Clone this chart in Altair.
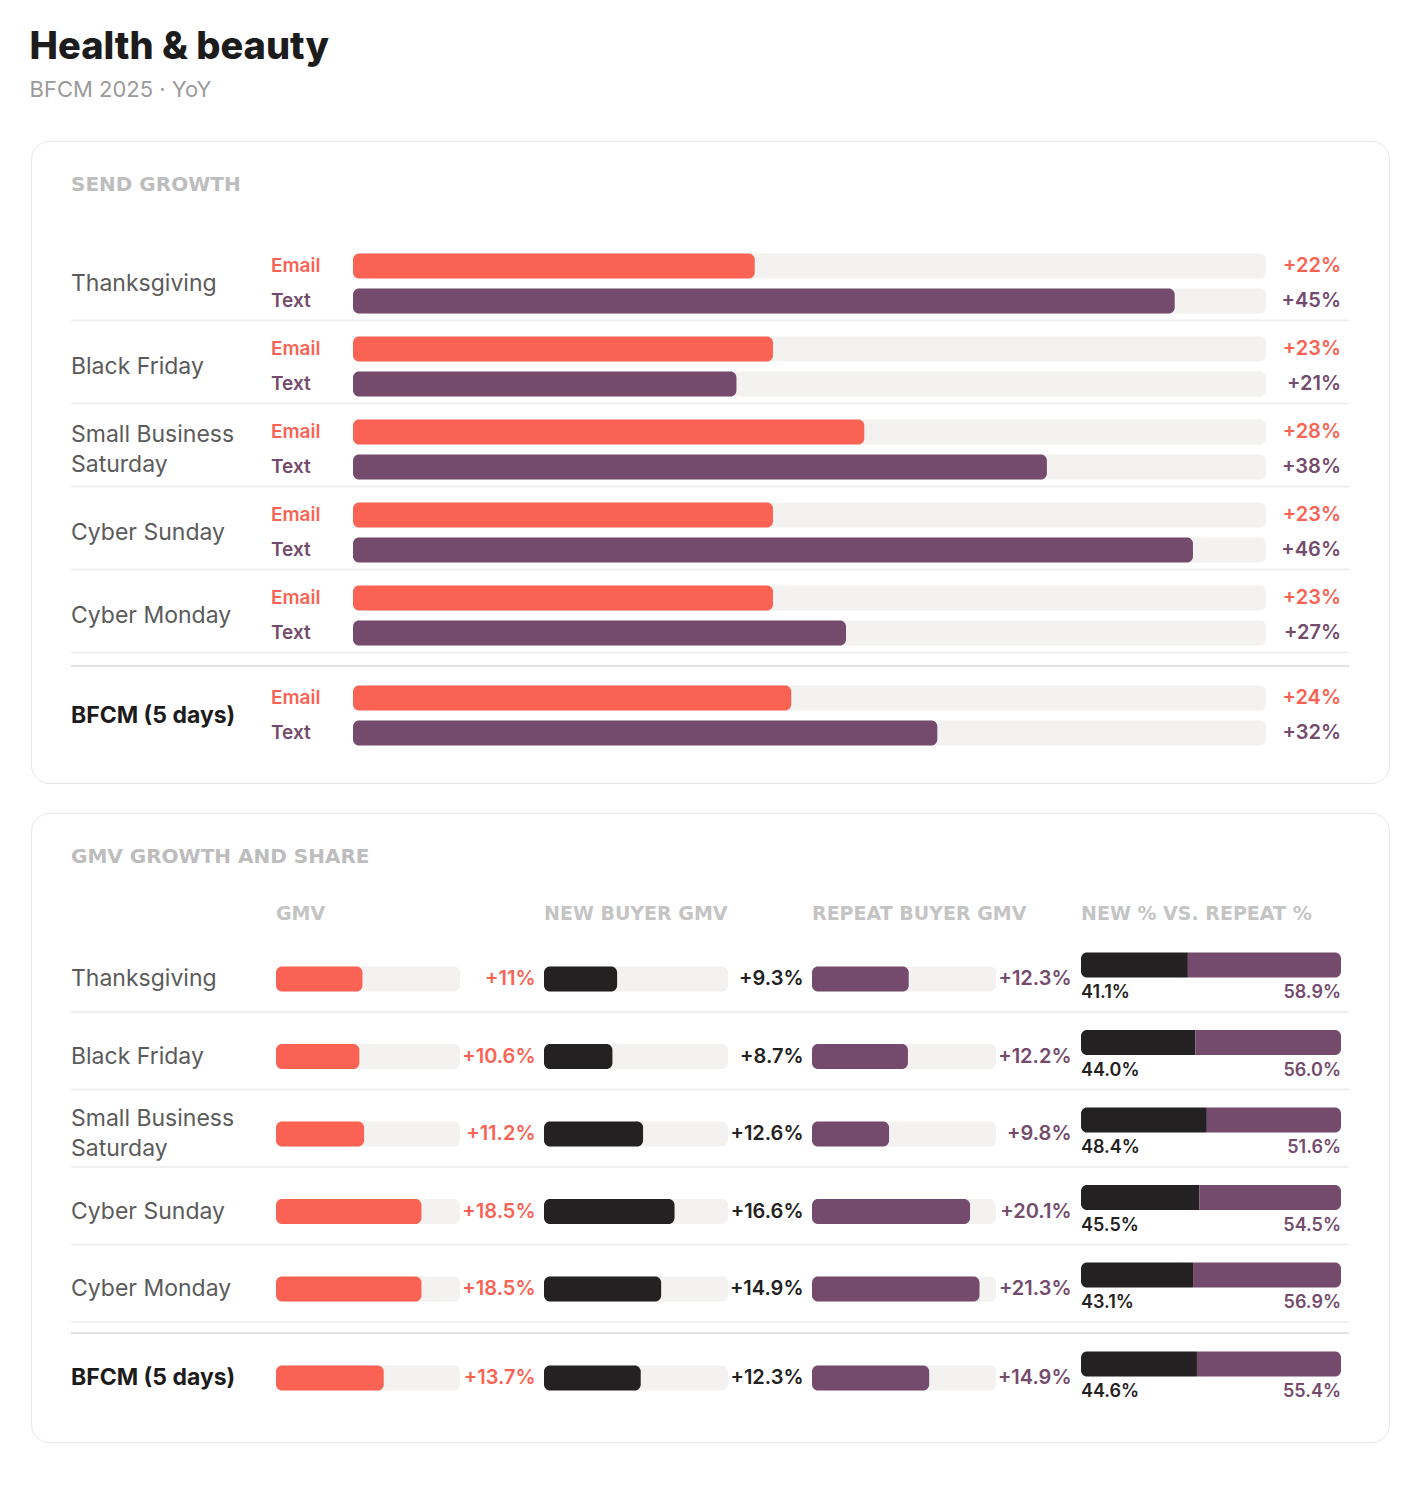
import altair as alt
import pandas as pd

# ---------------- data ----------------
events = ["Thanksgiving", "Black Friday", "Small Business\nSaturday",
          "Cyber Sunday", "Cyber Monday", "BFCM (5 days)"]
total_event = "BFCM (5 days)"

# Send growth, YoY %
email_growth = [22, 23, 28, 23, 23, 24]
text_growth = [45, 21, 38, 46, 27, 32]

# GMV growth, YoY %
gmv_growth = [11.0, 10.6, 11.2, 18.5, 18.5, 13.7]
new_buyer_growth = [9.3, 8.7, 12.6, 16.6, 14.9, 12.3]
repeat_buyer_growth = [12.3, 12.2, 9.8, 20.1, 21.3, 14.9]

# Share of GMV, %
new_share = [41.1, 44.0, 48.4, 45.5, 43.1, 44.6]
repeat_share = [58.9, 56.0, 51.6, 54.5, 56.9, 55.4]

gmv_headers = ["GMV", "NEW BUYER GMV", "REPEAT BUYER GMV", "NEW % VS. REPEAT %"]

# ---------------- style ----------------
CORAL = "#fa6354"
PURPLE = "#744b6d"
INK = "#232122"
TRACK = "#f3f2f1"
RULE = "#efefef"
RULE_STRONG = "#e3e3e3"
MUTED = "#bdbdbd"
NAME = "#5b5b5b"
FONT = "Inter"
CAPS_FONT = "DejaVu Sans"

PANEL_W = 1358
SEND_MAX = 50
GROWTH_MAX = 23.4
BAR_H = 25
RADIUS = 6
LINE_H = 30


def caption(text, x, y, size=20, color=MUTED):
    return alt.Chart(pd.DataFrame({"t": [text]})).mark_text(
        font=CAPS_FONT, fontSize=size, fontWeight="bold", color=color,
        align="left", baseline="middle"
    ).encode(x=alt.value(x), y=alt.value(y), text="t:N")


def name_layers(names, y_enc, shift, total):
    """Row names; multi-line names are centred on the row as a block."""
    df = pd.DataFrame({"event": list(names)})
    n_lines = df["event"].str.count("\n") + 1
    layers = []
    for n in sorted(n_lines.unique()):
        layers.append(alt.Chart(df[n_lines == n]).mark_text(
            font=FONT, fontSize=23, fontWeight=700 if total else 400,
            color="#1c1c1c" if total else NAME, align="left", baseline="middle",
            lineBreak="\n", lineHeight=LINE_H, dy=shift - (n - 1) * LINE_H / 2
        ).encode(x=alt.value(40), y=y_enc, text="event:N"))
    return layers


# ---------------- panel 1: send growth ----------------
send = pd.DataFrame({
    "event": events * 2,
    "channel": ["Email"] * len(events) + ["Text"] * len(events),
    "growth": email_growth + text_growth,
})
send["label"] = send["growth"].map(lambda v: f"{v:+d}%")

send_y = alt.Y("event:N", axis=None, sort=events,
               scale=alt.Scale(domain=events, range=[101, 599],
                               paddingInner=0, paddingOuter=0))
send_x = alt.Scale(domain=[0, SEND_MAX], range=[322, 1235])


def send_rows(df, shift, total):
    layers = []
    for channel, color, off in [("Email", CORAL, -17.5), ("Text", PURPLE, 17.5)]:
        sub = alt.Chart(df).transform_filter(
            alt.datum.channel == channel
        ).transform_calculate(lo="0", hi=str(SEND_MAX))
        layers.append(sub.mark_bar(color=TRACK, height=BAR_H, cornerRadius=RADIUS,
                                   yOffset=shift + off).encode(
            x=alt.X("lo:Q", scale=send_x, axis=None), x2="hi:Q", y=send_y))
        layers.append(sub.mark_bar(color=color, height=BAR_H, cornerRadius=RADIUS,
                                   yOffset=shift + off).encode(
            x=alt.X("lo:Q", scale=send_x, axis=None), x2="growth:Q", y=send_y))
        layers.append(sub.mark_text(font=FONT, fontSize=19, fontWeight=600, color=color,
                                    align="left", baseline="middle", dy=shift + off).encode(
            x=alt.value(240), y=send_y, text="channel:N"))
        layers.append(sub.mark_text(font=FONT, fontSize=20, fontWeight=600, color=color,
                                    align="right", baseline="middle", dy=shift + off).encode(
            x=alt.value(1310), y=send_y, text="label:N"))
    names = df["event"].unique()
    layers += name_layers(names, send_y, shift, total)
    rows = pd.DataFrame({"event": names})
    if total:
        layers.append(alt.Chart(rows).mark_rule(color=RULE_STRONG, strokeWidth=2,
                                                 yOffset=shift - 49.5).encode(
            x=alt.value(40), x2=alt.value(1318), y=send_y))
    else:
        layers.append(alt.Chart(rows).mark_rule(color=RULE, strokeWidth=2,
                                                 yOffset=37).encode(
            x=alt.value(40), x2=alt.value(1318), y=send_y))
    return layers


send_detail = send[send["event"] != total_event]
send_total = send[send["event"] == total_event]

panel1 = alt.layer(
    caption("SEND GROWTH", 40, 44),
    *send_rows(send_detail, 0, False),
    *send_rows(send_total, 17, True),
).properties(
    width=PANEL_W, height=642,
    view=alt.ViewBackground(stroke="#e6e6e6", strokeWidth=1, cornerRadius=18, fill="white"),
)

# ---------------- panel 2: GMV growth and share ----------------
gmv = pd.DataFrame({
    "event": events,
    "gmv": gmv_growth,
    "new": new_buyer_growth,
    "repeat": repeat_buyer_growth,
    "new_share": new_share,
    "repeat_share": repeat_share,
})
for col in ["gmv", "new", "repeat"]:
    gmv[col + "_label"] = gmv[col].map(lambda v: f"{v:+g}%")
gmv["new_share_label"] = gmv["new_share"].map(lambda v: f"{v:.1f}%")
gmv["repeat_share_label"] = gmv["repeat_share"].map(lambda v: f"{v:.1f}%")

gmv_y = alt.Y("event:N", axis=None, sort=events,
              scale=alt.Scale(domain=events, range=[127.25, 592.25],
                              paddingInner=0, paddingOuter=0))
growth_x = alt.Scale(domain=[0, GROWTH_MAX], range=[245, 429])
share_x = alt.Scale(domain=[0, 100], range=[1050, 1310])

growth_cols = [("gmv", CORAL, 0), ("new", INK, 268), ("repeat", PURPLE, 536)]


def gmv_rows(df, shift, total):
    base = alt.Chart(df).transform_calculate(lo="0", hi=str(GROWTH_MAX), full="100")
    layers = []
    for field, color, off in growth_cols:
        layers.append(base.mark_bar(color=TRACK, height=BAR_H, cornerRadius=RADIUS,
                                    xOffset=off, x2Offset=off, yOffset=shift).encode(
            x=alt.X("lo:Q", scale=growth_x, axis=None), x2="hi:Q", y=gmv_y))
        layers.append(base.mark_bar(color=color, height=BAR_H, cornerRadius=RADIUS,
                                    xOffset=off, x2Offset=off, yOffset=shift).encode(
            x=alt.X("lo:Q", scale=growth_x, axis=None), x2=f"{field}:Q", y=gmv_y))
        layers.append(base.mark_text(font=FONT, fontSize=20, fontWeight=600, color=color,
                                     align="right", baseline="middle", dy=shift).encode(
            x=alt.value(245 + off + 259.5), y=gmv_y, text=f"{field}_label:N"))
    # new vs repeat share, one split bar
    layers.append(base.mark_bar(color=INK, height=BAR_H, cornerRadiusTopLeft=RADIUS,
                                cornerRadiusBottomLeft=RADIUS, yOffset=shift - 14).encode(
        x=alt.X("lo:Q", scale=share_x, axis=None), x2="new_share:Q", y=gmv_y))
    layers.append(base.mark_bar(color=PURPLE, height=BAR_H, cornerRadiusTopRight=RADIUS,
                                cornerRadiusBottomRight=RADIUS, yOffset=shift - 14).encode(
        x=alt.X("new_share:Q", scale=share_x, axis=None), x2="full:Q", y=gmv_y))
    layers.append(base.mark_text(font=FONT, fontSize=18, fontWeight=600, color=INK,
                                 align="left", baseline="middle", dy=shift + 14).encode(
        x=alt.value(1050), y=gmv_y, text="new_share_label:N"))
    layers.append(base.mark_text(font=FONT, fontSize=18, fontWeight=600, color=PURPLE,
                                 align="right", baseline="middle", dy=shift + 14).encode(
        x=alt.value(1310), y=gmv_y, text="repeat_share_label:N"))
    layers += name_layers(df["event"], gmv_y, shift, total)
    if total:
        layers.append(base.mark_rule(color=RULE_STRONG, strokeWidth=2,
                                     yOffset=shift - 45).encode(
            x=alt.value(40), x2=alt.value(1318), y=gmv_y))
    else:
        layers.append(base.mark_rule(color=RULE, strokeWidth=2, yOffset=33).encode(
            x=alt.value(40), x2=alt.value(1318), y=gmv_y))
    return layers


gmv_detail = gmv[gmv["event"] != total_event]
gmv_total = gmv[gmv["event"] == total_event]

header_layers = [caption(h, 245 + off, 101, size=19, color="#c4c4c4")
                 for h, off in zip(gmv_headers, [0, 268, 536, 805])]

panel2 = alt.layer(
    caption("GMV GROWTH AND SHARE", 40, 44),
    *header_layers,
    *gmv_rows(gmv_detail, 0, False),
    *gmv_rows(gmv_total, 11.5, True),
).resolve_scale(x="independent").properties(
    width=PANEL_W, height=629,
    view=alt.ViewBackground(stroke="#e6e6e6", strokeWidth=1, cornerRadius=18, fill="white"),
)

chart = alt.vconcat(panel1, panel2, spacing=28).properties(
    title=alt.TitleParams(
        text="Health & beauty", subtitle="BFCM 2025 · YoY", anchor="start",
        font=FONT, fontSize=38, fontWeight=800, color="#1c1c1c",
        subtitleFont=FONT, subtitleFontSize=22, subtitleColor="#9a9a9a",
        subtitlePadding=13, offset=40, dx=-1,
    ),
    padding={"left": 29, "top": 28, "right": 30, "bottom": 20},
    background="white",
).configure_view(strokeWidth=0)

chart.save("out.html", embed_options={"renderer": "svg", "actions": False})
